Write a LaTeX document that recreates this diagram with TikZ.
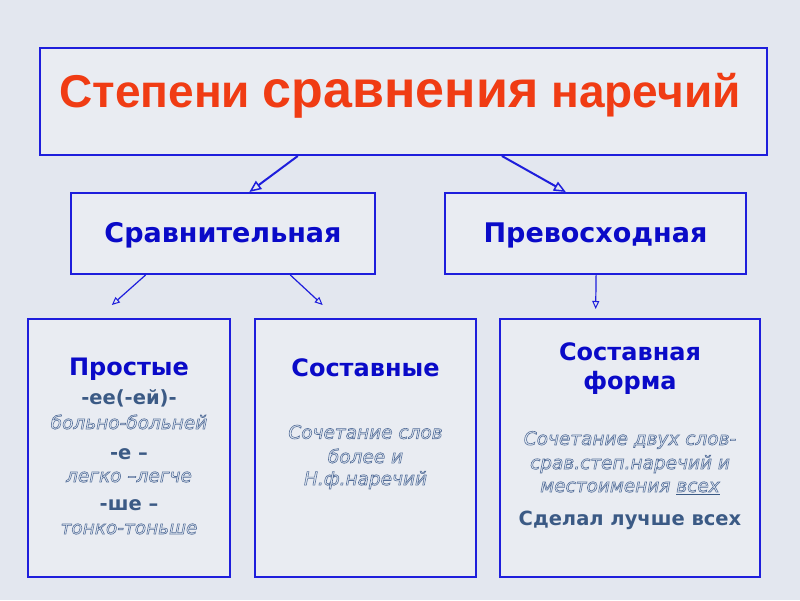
\documentclass[tikz,border=0pt]{standalone}
\usepackage{fontspec}
\setmainfont{DejaVu Sans}
\newfontfamily\titlefont{Liberation Sans}
\usetikzlibrary{calc,arrows.meta}
\definecolor{bgc}{HTML}{E3E7EF}
\definecolor{boxfill}{HTML}{E9ECF2}
\definecolor{bord}{HTML}{1E1EDC}
\definecolor{titlered}{HTML}{F03C14}
\definecolor{headblue}{HTML}{0A0AC8}
\definecolor{subblue}{HTML}{3B5A85}
\definecolor{itfill}{HTML}{E6ECF4}
\newcommand{\hollow}[1]{\special{pdf:literal direct 0.33 0.43 0.6 RG 0.6 w 2 Tr}#1\special{pdf:literal direct 0 Tr}}
\tikzset{
  box/.style={draw=bord, line width=2pt, fill=boxfill, rectangle, inner sep=0pt},
  arr/.style={draw=bord, line width=2pt, -{Triangle[open, length=12pt, width=10pt, line width=1.5pt]}},
  arrs/.style={draw=bord, line width=1.2pt, -{Triangle[open, length=8pt, width=7pt, line width=1pt]}},
  midhead/.style={font=\bfseries\fontsize{27}{32}\selectfont, text=headblue},
  head/.style={font=\bfseries\fontsize{24}{28}\selectfont, text=headblue},
  sub/.style={font=\bfseries\fontsize{19.5}{23}\selectfont, text=subblue},
  itl/.style={font=\itshape\fontsize{18.5}{22}\selectfont, text=itfill},
}
\begin{document}
\begin{tikzpicture}[x=1pt,y=-1pt]
\fill[bgc] (0,0) rectangle (800,600);
\useasboundingbox (0,0) rectangle (800,600);
% boxes
\node[box, minimum width=727pt, minimum height=107pt] (title) at (403.5,101.5) {};
\node[box, minimum width=304pt, minimum height=81pt] (srav) at (223,233.5) {};
\node[box, minimum width=301pt, minimum height=81pt] (prev) at (595.5,233.5) {};
\node[box, minimum width=202pt, minimum height=258pt] (prost) at (129,448) {};
\node[box, minimum width=221pt, minimum height=258pt] (sost) at (365.5,448) {};
\node[box, minimum width=260pt, minimum height=258pt] (forma) at (630,448) {};
% texts
\node[text=titlered, font=\titlefont\bfseries] (tt) at (400,96)
  {{\fontsize{46}{52}\selectfont Степени }{\fontsize{52}{56}\selectfont сравнения}{\fontsize{46}{52}\selectfont{} наречий}};
\node[midhead] (tsrav) at (223,235) {Сравнительная};
\node[midhead] (tprev) at (595.5,235) {Превосходная};
% Простые
\node[head] (p1) at (129,369) {Простые};
\node[sub] (p2) at (129,398) {-ее(-ей)-};
\node[itl] (p3) at (129,422) {\hollow{больно-больней}};
\node[sub] (p4) at (129,454) {-е –};
\node[itl] (p5) at (129,477) {\hollow{легко –легче}};
\node[sub] (p6) at (129,505) {-ше –};
\node[itl] (p7) at (129,529) {\hollow{тонко-тоньше}};
% Составные
\node[head] (s1) at (365.5,368) {Составные};
\node[itl] (s2) at (365.5,432) {\hollow{Сочетание слов}};
\node[itl] (s3) at (365.5,456) {\hollow{более и}};
\node[itl] (s4) at (365.5,480) {\hollow{Н.ф.наречий}};
% Составная форма
\node[head] (f1) at (630,352) {Составная};
\node[head] (f2) at (630,383) {форма};
\node[itl] (f3) at (630,440) {\hollow{Сочетание двух слов-}};
\node[itl] (f4) at (630,464) {\hollow{срав.степ.наречий и}};
\node[itl] (f5) at (630,488) {\hollow{местоимения} {\color{subblue}\underline{\color{itfill}\hollow{всех}}}};
\node[sub] (f6) at (630,520) {Сделал лучше всех};
% connectors
\draw[arr] ($(title.south west)!0.355!(title.south east)$) -- ($(srav.north west)!0.586!(srav.north east)$);
\draw[arr] ($(title.south west)!0.635!(title.south east)$) -- ($(prev.north west)!0.402!(prev.north east)$);
\draw[arrs] ($(srav.south west)!0.247!(srav.south east)$) -- ($(prost.north west)!0.416!(prost.north east) + (0,-13)$);
\draw[arrs] ($(srav.south west)!0.72!(srav.south east)$) -- ($(sost.north west)!0.308!(sost.north east) + (0,-13)$);
\draw[arrs] ($(prev.south west)!0.502!(prev.south east)$) -- ($(forma.north west)!0.369!(forma.north east) + (0,-9)$);
\end{tikzpicture}
\end{document}
